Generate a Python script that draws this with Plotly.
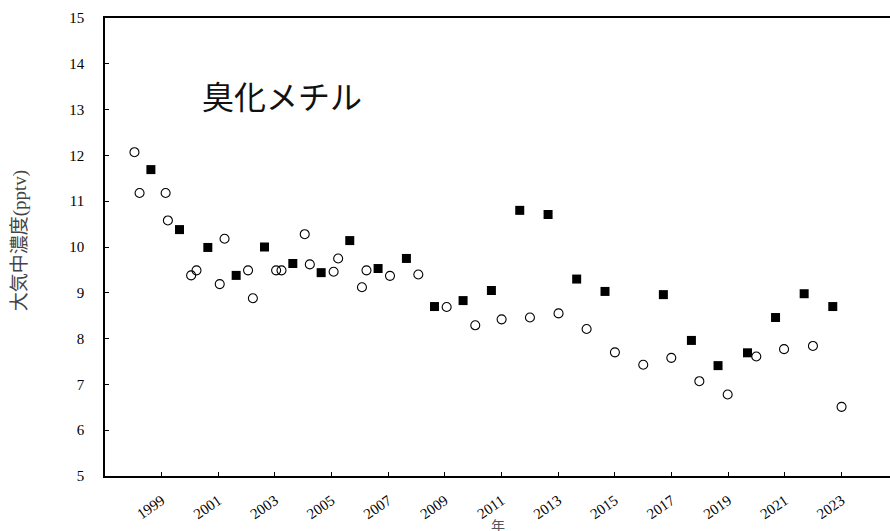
import plotly.graph_objects as go

# Open circles (fractional year, pptv)
circle_x = [1998.04, 1998.22, 1999.14, 1999.22, 2000.04, 2000.23, 2001.05, 2001.22,
            2002.05, 2002.22, 2003.04, 2003.23, 2004.05, 2004.23, 2005.07, 2005.23,
            2006.07, 2006.23, 2007.06, 2008.06, 2009.06, 2010.07, 2011.00, 2012.00,
            2013.01, 2014.00, 2015.00, 2016.00, 2016.99, 2017.98, 2018.98, 2019.99,
            2020.97, 2021.99, 2023.00]
circle_y = [12.07, 11.18, 11.18, 10.58, 9.38, 9.49, 9.19, 10.18,
            9.49, 8.88, 9.49, 9.49, 10.28, 9.62, 9.46, 9.75,
            9.12, 9.49, 9.37, 9.40, 8.69, 8.29, 8.42, 8.46,
            8.55, 8.21, 7.70, 7.43, 7.58, 7.07, 6.78, 7.61,
            7.77, 7.84, 6.51]

# Filled squares
square_x = [1998.62, 1999.63, 2000.63, 2001.63, 2002.63, 2003.63, 2004.63, 2005.64,
            2006.64, 2007.64, 2008.63, 2009.64, 2010.64, 2011.64, 2012.64, 2013.65,
            2014.65, 2016.71, 2017.70, 2018.64, 2019.68, 2020.67, 2021.68, 2022.69]
square_y = [11.69, 10.38, 9.99, 9.38, 10.00, 9.64, 9.44, 10.14,
            9.53, 9.75, 8.70, 8.83, 9.05, 10.80, 10.71, 9.30,
            9.03, 8.96, 7.96, 7.41, 7.69, 8.46, 8.98, 8.70]

tick_years = [1999, 2001, 2003, 2005, 2007, 2009, 2011, 2013, 2015, 2017, 2019, 2021, 2023]
tick_labels = [str(y) for y in tick_years]
y_ticks = list(range(5, 16))

chart_title = "臭化メチル"
y_title = "大気中濃度(pptv)"
x_title = "年"

fig = go.Figure()
fig.add_trace(go.Scatter(
    x=circle_x, y=circle_y, mode="markers",
    marker=dict(symbol="circle-open", size=9, color="black", line=dict(width=1.1, color="black")),
    showlegend=False, hoverinfo="skip"))
fig.add_trace(go.Scatter(
    x=square_x, y=square_y, mode="markers",
    marker=dict(symbol="square", size=9, color="black"),
    showlegend=False, hoverinfo="skip"))

serif = "Liberation Serif, Times New Roman, serif"
fig.update_layout(
    width=890, height=531,
    margin=dict(l=105, r=0, t=18, b=55),
    paper_bgcolor="white", plot_bgcolor="white",
    xaxis=dict(range=[1997, 2024.71], tickmode="array", tickvals=tick_years, ticktext=tick_labels,
               tickangle=-35, ticks="inside", ticklen=4, tickwidth=1, tickcolor="black",
               showline=True, linecolor="black", linewidth=2, mirror=True,
               showgrid=False, zeroline=False,
               tickfont=dict(family=serif, size=15, color="black"), ticklabelstandoff=8),
    yaxis=dict(range=[5, 15], tickmode="array", tickvals=y_ticks,
               ticks="inside", ticklen=4, tickwidth=1, tickcolor="black",
               showline=True, linecolor="black", linewidth=1.7,
               showgrid=False, zeroline=False,
               tickfont=dict(family=serif, size=15, color="black"), ticklabelstandoff=16),
    annotations=[
        dict(text=chart_title, xref="paper", yref="paper", x=0.225, y=0.832,
             xanchor="center", yanchor="middle", showarrow=False,
             font=dict(family="Noto Sans CJK JP", size=32, color="#111")),
        dict(text=y_title, xref="paper", yref="paper", x=-0.108, y=0.513,
             xanchor="center", yanchor="middle", showarrow=False, textangle=-90,
             font=dict(family="Liberation Serif, Noto Sans CJK JP", size=19, color="#444")),
        dict(text=x_title, xref="paper", yref="paper", x=0.5, y=-0.107,
             xanchor="center", yanchor="middle", showarrow=False,
             font=dict(family="Noto Sans CJK JP", size=14, color="#555")),
    ],
)

fig.write_html("out.html", config={"displayModeBar": False},
               post_script="document.body.style.margin='0';document.body.style.overflow='hidden';")
